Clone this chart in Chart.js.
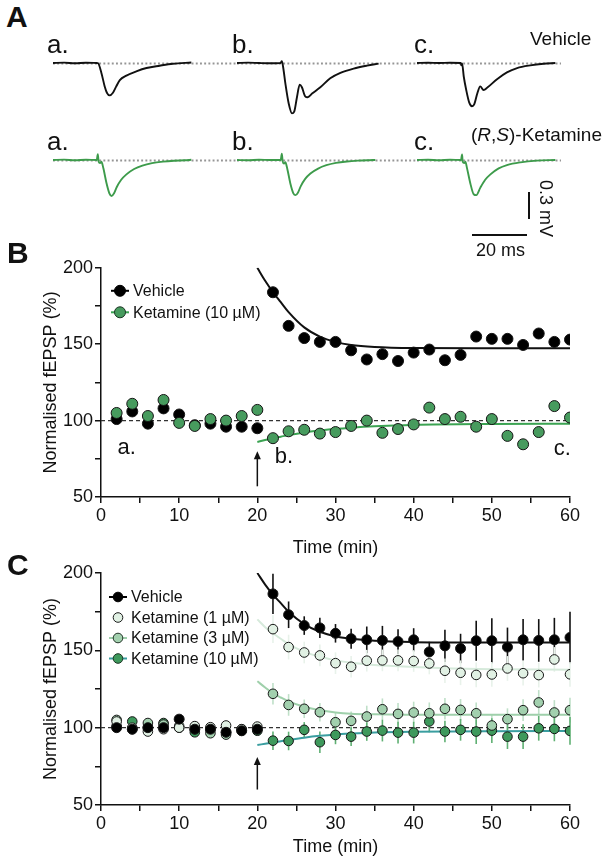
<!DOCTYPE html>
<html>
<head>
<meta charset="utf-8">
<title>Ketamine fEPSP</title>
<script src="https://cdn.jsdelivr.net/npm/chart.js@4.4.1/dist/chart.umd.min.js"></script>
<style>
  html, body { margin: 0; padding: 0; background: #fff; }
  #fig { position: relative; width: 608px; height: 864px; overflow: hidden;
         font-family: "Liberation Sans", Arial, Helvetica, sans-serif; color: #111; }
  #fig canvas { position: absolute; }
  .txt { position: absolute; line-height: 1; white-space: nowrap; z-index: 2; }
  .panel { font-weight: bold; font-size: 30px; }
  .sweep { font-size: 26px; }
  .cond { font-size: 19px; }
</style>
</head>
<body>
<div id="fig">
  <div class="txt panel" style="left:6px; top:2px;">A</div>
  <div class="txt panel" style="left:7px; top:238px;">B</div>
  <div class="txt panel" style="left:7px; top:550px;">C</div>

  <div class="txt sweep" style="left:47px; top:31px;">a.</div>
  <div class="txt sweep" style="left:232px; top:31px;">b.</div>
  <div class="txt sweep" style="left:414px; top:31px;">c.</div>
  <div class="txt cond" style="left:530px; top:29px;">Vehicle</div>

  <div class="txt sweep" style="left:47px; top:128px;">a.</div>
  <div class="txt sweep" style="left:232px; top:128px;">b.</div>
  <div class="txt sweep" style="left:414px; top:128px;">c.</div>
  <div class="txt cond" style="left:471px; top:125px;">(<i>R</i>,<i>S</i>)-Ketamine</div>
</div>

<script>
// ---------- Panel A: example sweeps (time in ms, amplitude in mV) ----------
const vehSweepATime = [0, 4, 8, 12, 15.9, 16.4, 17.6, 18.8, 19.6, 20.6, 21.8, 23.0, 24.3, 26.7, 30.3, 34.0, 38.8, 43.6, 50.3];
const vehSweepAmV   = [0, 0.004, -0.003, 0.003, 0, -0.003, -0.11, -0.26, -0.33, -0.36, -0.33, -0.26, -0.19, -0.14, -0.093, -0.056, -0.03, -0.008, 0.005];

const vehSweepBTime = [0, 4, 8, 12, 15.8, 16.3, 16.8, 17.6, 18.8, 20.0, 20.8, 21.8, 22.8, 23.6, 24.8, 25.7, 27.3, 30.3, 33.9, 37.6, 42.4, 47.3, 51.5];
const vehSweepBmV   = [0, 0.004, 0, -0.003, 0, 0.02, -0.05, -0.23, -0.45, -0.56, -0.54, -0.38, -0.24, -0.27, -0.37, -0.38, -0.34, -0.27, -0.17, -0.11, -0.062, -0.029, -0.007];

const vehSweepCTime = [0, 4, 8, 12, 15.9, 16.1, 16.4, 17.0, 17.9, 19.0, 20.0, 20.8, 22.0, 23.0, 24.2, 25.7, 29.1, 32.7, 36.4, 41.2, 46.0, 50.3];
const vehSweepCmV   = [0, 0.003, 0, 0.003, 0, -0.025, -0.005, -0.15, -0.30, -0.44, -0.48, -0.46, -0.33, -0.26, -0.30, -0.27, -0.18, -0.104, -0.056, -0.026, -0.008, 0];

const ketSweepATime = [0, 4, 8, 12, 15.9, 16.3, 16.6, 17.1, 17.6, 18.3, 19.4, 20.5, 21.3, 22.2, 23.2, 24.8, 26.7, 29.5, 32.5, 36, 40, 44, 48, 50.3];
const ketSweepAmV   = [0, 0.004, -0.003, 0.003, 0, 0.065, -0.02, -0.035, -0.02, -0.09, -0.25, -0.37, -0.40, -0.37, -0.30, -0.22, -0.16, -0.1, -0.062, -0.035, -0.018, -0.008, -0.003, 0.002];

const ketSweepBTime = [0, 4, 8, 12, 15.9, 16.3, 16.6, 17.1, 17.6, 18.3, 19.4, 20.5, 21.3, 22.2, 23.2, 24.8, 26.7, 29.5, 32.5, 36, 40, 44, 48, 50.3];
const ketSweepBmV   = [0, -0.003, 0.003, 0, 0, 0.07, -0.015, -0.04, -0.025, -0.1, -0.26, -0.37, -0.39, -0.36, -0.29, -0.21, -0.15, -0.095, -0.058, -0.032, -0.016, -0.007, -0.002, 0];

const ketSweepCTime = [0, 4, 8, 12, 16.0, 16.4, 16.6, 17.2, 17.6, 18.2, 19.4, 20.6, 21.6, 23.0, 24.8, 26.7, 29.7, 32.7, 37.6, 43.6, 50.3];
const ketSweepCmV   = [0, 0.003, -0.003, 0.003, 0, 0.063, -0.018, -0.033, -0.02, -0.093, -0.26, -0.38, -0.39, -0.31, -0.22, -0.16, -0.093, -0.056, -0.026, -0.007, 0];

const scaleBarMs = 20;
const scaleBarMv = 0.3;

// ---------- Panel B: single-dose experiment ----------
const timeMin = [2, 4, 6, 8, 10, 12, 14, 16, 18, 20, 22, 24, 26, 28, 30, 32, 34, 36, 38, 40, 42, 44, 46, 48, 50, 52, 54, 56, 58, 60];
const vehicleB    = [101, 106, 98, 108, 104, 97, 98, 96, 96, 95, 184, 162, 154, 151.5, 151.5, 146, 140, 143.5, 139, 144.5, 146.5, 139.5, 143, 155, 153.5, 153.5, 149.5, 157, 151.5, 153];
const ketamine10B = [105, 111, 103, 113.5, 98.5, 96.5, 101, 100, 103, 107, 88.5, 93, 94, 91.5, 92.5, 96.5, 100, 92, 94.5, 97.5, 108.5, 101, 102.5, 96, 101, 90, 84.5, 92.5, 109.5, 102];

const fitTimeB       = [20, 21, 22, 23, 24, 26, 28, 30, 32, 35, 40, 50, 60];
const vehicleFitB    = [200, 191.5, 184, 177.5, 171, 161, 155, 151.5, 149.5, 148.2, 147.5, 147.3, 147.3];
const ketamine10FitB = [86, 87.3, 88.5, 89.5, 90.5, 92.2, 93.5, 94.6, 95.4, 96.3, 97.2, 97.8, 98];

// ---------- Panel C: dose-response, mean +/- SEM ----------
const vehicleC    = [100, 99, 100, 100, 105.5, 99, 99, 97, 98, 99, 186.5, 173, 166, 164.5, 161, 157.5, 156.8, 156.4, 155.7, 156.8, 149, 152.9, 151.2, 156.2, 156.2, 152.1, 156.8, 156.4, 156.8, 158.3];
const vehicleSemC = [2, 2, 2, 2, 2, 2, 2, 2, 2, 2, 13, 8.6, 6, 6.5, 6, 6.5, 8.6, 9.4, 8, 7.5, 6.5, 10.4, 9.5, 13, 14.6, 12.6, 13.4, 13.8, 14.2, 16.7];
const ketamine1C    = [104, 100, 97.5, 99, 100, 101, 100.3, 101.4, 99, 100.7, 163.7, 152.1, 148.6, 146.7, 141.7, 139.4, 143.3, 143.5, 143.5, 143.1, 141.5, 136.8, 135.5, 134.1, 134.4, 138.3, 135.2, 134, 144.1, 134.5];
const ketamine1SemC = [2, 2, 2, 2, 2, 2, 2, 2, 2, 2, 9, 8, 7, 7, 7, 7, 7, 7, 7, 7, 7, 8, 8, 8, 8, 8, 8, 8, 8, 8];
const ketamine3C    = [105, 99, 103, 102, 101, 99, 96.4, 95.5, 99, 99, 121.9, 114.7, 112.2, 110, 103.5, 104.4, 107.2, 111.9, 108.9, 109.8, 109.3, 112.2, 111.5, 109.3, 101.4, 105.5, 111.3, 116.3, 109.8, 111.3];
const ketamine3SemC = [2, 2, 2, 2, 2, 2, 2, 2, 2, 2, 7, 7, 6, 6, 6, 6, 7, 7, 7, 7, 7, 7, 7, 7, 7, 7, 7, 8, 8, 8];
const ketamine10C    = [101, 104, 100, 103, 100, 97, 99, 97, 98, 98, 91.6, 91.4, 98.6, 90.6, 95.3, 94.2, 97.5, 98.1, 96.8, 96.8, 104, 97.5, 98.6, 97.5, 98.1, 94.2, 94.2, 99.6, 99.2, 97.9];
const ketamine10SemC = [2, 2, 2, 2, 2, 2, 2, 2, 2, 2, 6, 6, 5, 7, 6, 6, 6, 7, 7, 7, 7, 7, 7, 8, 8, 8, 8, 8, 8, 9];

const fitTimeC       = [20, 21, 22, 23, 24, 26, 28, 30, 32, 35, 40, 45, 50, 60];
const vehicleFitC    = [200, 192.5, 186, 180.5, 175, 167, 162, 159, 157.5, 156.2, 155.3, 155, 155, 155];
const ketamine1FitC  = [170, 165, 161, 157.5, 154, 149, 145.8, 143.5, 141.9, 140.5, 139.2, 138.3, 137.8, 137.5];
const ketamine3FitC  = [130, 126, 122.3, 119.5, 117, 113.5, 111.2, 109.8, 109, 108.6, 108.4, 108.3, 108.3, 108.3];
const ketamine10FitC = [88.8, 89.6, 90.4, 91.2, 92, 93.5, 94.7, 95.6, 96.2, 96.9, 97.4, 97.6, 97.7, 97.8];

const seriesNamesB = ['Vehicle', 'Ketamine (10 \u00b5M)'];
const seriesNamesC = ['Vehicle', 'Ketamine (1 \u00b5M)', 'Ketamine (3 \u00b5M)', 'Ketamine (10 \u00b5M)'];
const stimTime = 20;
const baselinePct = 100;

// ---------- shared setup ----------
const FONT = '"Liberation Sans", Arial, Helvetica, sans-serif';
Chart.defaults.font.family = FONT;
Chart.defaults.color = '#111';
const PX_PER_MS = 2.75;
const PX_PER_MV = 90;

function makeCanvas(left, top, width, height) {
    const c = document.createElement('canvas');
    c.width = width;
    c.height = height;
    c.style.left = left + 'px';
    c.style.top = top + 'px';
    c.style.width = width + 'px';
    c.style.height = height + 'px';
    document.getElementById('fig').appendChild(c);
    return c.getContext('2d');
}

function toPoints(xs, ys) {
    return xs.map((x, i) => ({ x: x, y: ys[i] }));
}

// dotted 0 mV line under each sweep
const zeroDots = {
    id: 'zeroDots',
    beforeDatasetsDraw(chart, args, opts) {
        const { ctx, chartArea, scales: { x, y } } = chart;
        const end = opts.end != null ? x.getPixelForValue(opts.end) : chartArea.right;
        const py = Math.round(y.getPixelForValue(0)) + 0.5;
        ctx.save();
        ctx.strokeStyle = '#959595';
        ctx.lineWidth = 1.9;
        ctx.setLineDash([1.9, 2.3]);
        ctx.beginPath();
        ctx.moveTo(chartArea.left, py);
        ctx.lineTo(end, py);
        ctx.stroke();
        ctx.restore();
    }
};

// calibration bars, lengths come from the sweep scales
const scaleBar = {
    id: 'scaleBar',
    afterDraw(chart, args, opts) {
        if (!opts.show) return;
        const { ctx, scales: { x, y } } = chart;
        const hLen = x.getPixelForValue(scaleBarMs) - x.getPixelForValue(0);
        const vLen = y.getPixelForValue(0) - y.getPixelForValue(scaleBarMv);
        ctx.save();
        ctx.strokeStyle = '#111';
        ctx.lineWidth = 2;
        ctx.beginPath();
        ctx.moveTo(opts.vx, opts.vy);
        ctx.lineTo(opts.vx, opts.vy + vLen);
        ctx.moveTo(opts.hx - hLen, opts.hy);
        ctx.lineTo(opts.hx, opts.hy);
        ctx.stroke();
        ctx.fillStyle = '#111';
        ctx.font = '18px ' + FONT;
        ctx.textAlign = 'center';
        ctx.textBaseline = 'alphabetic';
        ctx.fillText(scaleBarMs + ' ms', opts.hx - hLen / 2 + 1, opts.hy + 21);
        ctx.translate(opts.vx + 16, opts.vy + vLen / 2 + 3);
        ctx.rotate(Math.PI / 2);
        ctx.textBaseline = 'middle';
        ctx.fillText(scaleBarMv + ' mV', 0, 0);
        ctx.restore();
    }
};

function renderSweep(left, top, width, height, times, values, color, extra) {
    const ctx = makeCanvas(left, top, width, height);
    const baseTop = 20;
    new Chart(ctx, {
        type: 'line',
        data: {
            datasets: [{
                data: toPoints(times, values),
                borderColor: color,
                borderWidth: 1.9,
                pointRadius: 0,
                cubicInterpolationMode: 'monotone',
                fill: false
            }]
        },
        options: {
            responsive: false,
            animation: false,
            events: [],
            layout: { padding: 0 },
            plugins: {
                legend: { display: false },
                tooltip: { enabled: false },
                zeroDots: { end: extra && extra.dotEnd },
                scaleBar: Object.assign({ show: false }, extra && extra.bar)
            },
            scales: {
                x: { type: 'linear', display: false, min: 0, max: width / PX_PER_MS },
                y: { display: false, min: -(height - baseTop) / PX_PER_MV, max: baseTop / PX_PER_MV }
            }
        },
        plugins: [zeroDots, scaleBar]
    });
}

const VEH_TRACE = '#111111';
const KET_TRACE = '#3d9b4b';

renderSweep(53, 43, 184, 80, vehSweepATime, vehSweepAmV, VEH_TRACE);
renderSweep(237, 43, 180, 80, vehSweepBTime, vehSweepBmV, VEH_TRACE);
renderSweep(417, 43, 144, 80, vehSweepCTime, vehSweepCmV, VEH_TRACE);

renderSweep(53, 140, 184, 80, ketSweepATime, ketSweepAmV, KET_TRACE);
renderSweep(237, 140, 180, 80, ketSweepBTime, ketSweepBmV, KET_TRACE);
renderSweep(417, 140, 191, 125, ketSweepCTime, ketSweepCmV, KET_TRACE, {
    dotEnd: 144 / PX_PER_MS,
    bar: { show: true, vx: 112, vy: 52, hx: 110, hy: 95 }
});

// ---------- time-course plugins ----------
const refLine = {
    id: 'refLine',
    beforeDatasetsDraw(chart) {
        const { ctx, scales: { x, y } } = chart;
        const py = y.getPixelForValue(baselinePct);
        ctx.save();
        ctx.strokeStyle = '#333';
        ctx.lineWidth = 1.2;
        ctx.setLineDash([4, 3]);
        ctx.beginPath();
        ctx.moveTo(x.getPixelForValue(x.min), py);
        ctx.lineTo(x.getPixelForValue(x.max), py);
        ctx.stroke();
        ctx.restore();
    }
};

const errorBars = {
    id: 'errorBars',
    beforeDatasetsDraw(chart) {
        const { ctx, scales: { x, y } } = chart;
        chart.data.datasets.forEach(ds => {
            if (!ds.errorBars) return;
            ctx.save();
            ctx.strokeStyle = ds.errorColor;
            ctx.lineWidth = 1.6;
            ds.data.forEach((p, i) => {
                const e = ds.errorBars[i];
                const px = x.getPixelForValue(p.x);
                ctx.beginPath();
                ctx.moveTo(px, y.getPixelForValue(p.y - e));
                ctx.lineTo(px, y.getPixelForValue(p.y + e));
                ctx.stroke();
            });
            ctx.restore();
        });
    }
};

const stimArrow = {
    id: 'stimArrow',
    afterDatasetsDraw(chart, args, opts) {
        const { ctx, scales: { x, y } } = chart;
        const px = x.getPixelForValue(stimTime);
        const y0 = y.getPixelForValue(opts.from);
        const y1 = y.getPixelForValue(opts.to);
        ctx.save();
        ctx.strokeStyle = '#111';
        ctx.fillStyle = '#111';
        ctx.lineWidth = 1.5;
        ctx.beginPath();
        ctx.moveTo(px, y0);
        ctx.lineTo(px, y1 + 5);
        ctx.stroke();
        ctx.beginPath();
        ctx.moveTo(px, y1);
        ctx.lineTo(px - 3.5, y1 + 8);
        ctx.lineTo(px + 3.5, y1 + 8);
        ctx.closePath();
        ctx.fill();
        ctx.restore();
    }
};

const sweepMarks = {
    id: 'sweepMarks',
    afterDatasetsDraw(chart, args, opts) {
        if (!opts.marks) return;
        const { ctx, scales: { x, y } } = chart;
        ctx.save();
        ctx.fillStyle = '#111';
        ctx.font = '22px ' + FONT;
        ctx.textAlign = 'center';
        ctx.textBaseline = 'middle';
        opts.marks.forEach(m => ctx.fillText(m.text, x.getPixelForValue(m.x), y.getPixelForValue(m.y)));
        ctx.restore();
    }
};

const insideLegend = {
    id: 'insideLegend',
    afterDraw(chart, args, opts) {
        if (!opts.items) return;
        const { ctx, chartArea } = chart;
        ctx.save();
        ctx.font = '16px ' + FONT;
        ctx.textBaseline = 'middle';
        opts.items.forEach((it, i) => {
            const cx = chartArea.left + opts.x;
            const cy = chartArea.top + opts.y + i * opts.rowGap;
            if (it.line) {
                ctx.strokeStyle = it.line;
                ctx.lineWidth = 2;
                ctx.beginPath();
                ctx.moveTo(cx - 9, cy);
                ctx.lineTo(cx + 9, cy);
                ctx.stroke();
            }
            ctx.beginPath();
            ctx.arc(cx, cy, opts.r, 0, Math.PI * 2);
            ctx.fillStyle = it.fill;
            ctx.fill();
            ctx.lineWidth = 1;
            ctx.strokeStyle = it.border;
            ctx.stroke();
            ctx.fillStyle = '#111';
            ctx.fillText(it.label, cx + opts.textGap, cy + 1);
        });
        ctx.restore();
    }
};

function timeAxes(xAxisHeight) {
    return {
        x: {
            type: 'linear', min: 0, max: 60,
            afterFit: s => { s.height = xAxisHeight; },
            ticks: {
                stepSize: 5, autoSkip: false, maxRotation: 0, padding: 2,
                font: { size: 18 }, color: '#111',
                callback: v => (v % 10 === 0 ? v : '')
            },
            grid: { drawOnChartArea: false, tickLength: 6, color: '#111', lineWidth: 1.5 },
            border: { display: true, color: '#111', width: 1.5 },
            title: { display: true, text: 'Time (min)', font: { size: 18 }, color: '#111', padding: { top: 0, bottom: 6 } }
        },
        y: {
            min: 50, max: 200,
            afterFit: s => { s.width = 101; },
            ticks: {
                stepSize: 25, autoSkip: false, padding: 2,
                font: { size: 18 }, color: '#111',
                callback: v => (v % 50 === 0 ? v : '')
            },
            grid: { drawOnChartArea: false, tickLength: 6, color: '#111', lineWidth: 1.5 },
            border: { display: true, color: '#111', width: 1.5 },
            title: { display: true, text: 'Normalised fEPSP (%)', font: { size: 18 }, color: '#111', padding: { top: 40, bottom: 0 } }
        }
    };
}

function pointSet(label, ys, fill, radius, sem, semColor) {
    const ds = {
        type: 'scatter',
        label: label,
        data: toPoints(timeMin, ys),
        pointRadius: radius,
        pointBackgroundColor: fill,
        pointBorderColor: '#151515',
        pointBorderWidth: 1,
        showLine: false
    };
    if (sem) {
        ds.errorBars = sem;
        ds.errorColor = semColor;
    }
    return ds;
}

function fitSet(xs, ys, color) {
    return {
        type: 'line',
        data: toPoints(xs, ys),
        borderColor: color,
        borderWidth: 2,
        pointRadius: 0,
        cubicInterpolationMode: 'monotone',
        fill: false
    };
}

// ---------- Panel B ----------
const KET10_FILL = '#479b5e';
const ctxB = makeCanvas(0, 255, 608, 310);
new Chart(ctxB, {
    type: 'scatter',
    data: {
        datasets: [
            pointSet(seriesNamesB[1], ketamine10B, KET10_FILL, 5.5),
            pointSet(seriesNamesB[0], vehicleB, '#000', 5.5),
            fitSet(fitTimeB, vehicleFitB, '#111'),
            fitSet(fitTimeB, ketamine10FitB, '#3ba352')
        ]
    },
    options: {
        responsive: false,
        animation: false,
        events: [],
        layout: { padding: { top: 12, right: 38, left: 0, bottom: 0 } },
        plugins: {
            legend: { display: false },
            tooltip: { enabled: false },
            stimArrow: { from: 57, to: 80 },
            sweepMarks: {
                marks: [
                    { text: 'a.', x: 3.3, y: 82 },
                    { text: 'b.', x: 23.4, y: 76 },
                    { text: 'c.', x: 59, y: 81.5 }
                ]
            },
            insideLegend: {
                x: 19, y: 23, rowGap: 21.5, r: 5.5, textGap: 13,
                items: [
                    { label: seriesNamesB[0], fill: '#000', border: '#000', line: '#000' },
                    { label: seriesNamesB[1], fill: KET10_FILL, border: '#1a3322', line: '#3ba352' }
                ]
            }
        },
        scales: timeAxes(68)
    },
    plugins: [refLine, errorBars, stimArrow, sweepMarks, insideLegend]
});

// ---------- Panel C ----------
const K1_FILL = '#e1f1e4', K3_FILL = '#a2d0ae', K10_FILL = '#3e995c';
const ctxC = makeCanvas(0, 560, 608, 304);
new Chart(ctxC, {
    type: 'scatter',
    data: {
        datasets: [
            pointSet(seriesNamesC[0], vehicleC, '#000', 5, vehicleSemC, '#111'),
            pointSet(seriesNamesC[1], ketamine1C, K1_FILL, 4.8, ketamine1SemC, '#e8f2ea'),
            pointSet(seriesNamesC[2], ketamine3C, K3_FILL, 4.8, ketamine3SemC, '#bfe0c8'),
            pointSet(seriesNamesC[3], ketamine10C, K10_FILL, 4.8, ketamine10SemC, '#5fb073'),
            fitSet(fitTimeC, vehicleFitC, '#111'),
            fitSet(fitTimeC, ketamine1FitC, '#d6eadb'),
            fitSet(fitTimeC, ketamine3FitC, '#9fd0ab'),
            fitSet(fitTimeC, ketamine10FitC, '#3a9ea0')
        ]
    },
    options: {
        responsive: false,
        animation: false,
        events: [],
        layout: { padding: { top: 13, right: 38, left: 0, bottom: 0 } },
        plugins: {
            legend: { display: false },
            tooltip: { enabled: false },
            stimArrow: { from: 60, to: 81 },
            insideLegend: {
                x: 17, y: 24, rowGap: 20.5, r: 4.8, textGap: 13,
                items: [
                    { label: seriesNamesC[0], fill: '#000', border: '#000', line: '#000' },
                    { label: seriesNamesC[1], fill: K1_FILL, border: '#1a1a1a', line: null },
                    { label: seriesNamesC[2], fill: K3_FILL, border: '#25352a', line: '#9fd0ab' },
                    { label: seriesNamesC[3], fill: K10_FILL, border: '#1a3322', line: '#3a9ea0' }
                ]
            }
        },
        scales: timeAxes(59)
    },
    plugins: [refLine, errorBars, stimArrow, insideLegend]
});
</script>
</body>
</html>
